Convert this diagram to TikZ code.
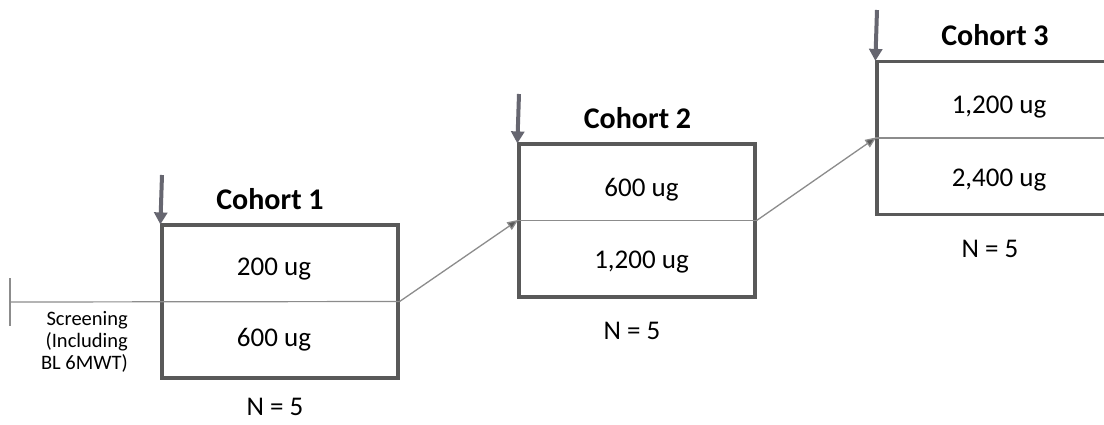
\documentclass[tikz,border=0pt]{standalone}
\usepackage{fontspec}
\setmainfont{Carlito}
\usetikzlibrary{arrows.meta}
\definecolor{boxgray}{HTML}{595959}
\definecolor{arrowgray}{HTML}{666670}
\definecolor{linegray}{HTML}{8C8C8C}
\tikzset{
  cbox/.style={draw=boxgray, line width=3.2pt, minimum width=236pt, minimum height=153pt, inner sep=0pt},
  midline/.style={draw=linegray, line width=1.2pt},
  downarrow/.style={draw=arrowgray, line width=4pt, -{Triangle[width=13pt,length=12pt]}, shorten >=-1pt},
  diag/.style={draw=linegray, line width=1.3pt, -{Triangle[width=9pt,length=11pt,fill=boxgray]}, shorten >=-1pt},
  title/.style={font=\fontsize{30}{34}\bfseries\selectfont, inner sep=0pt},
  dose/.style={font=\fontsize{27}{31}\selectfont, inner sep=0pt},
  small/.style={font=\fontsize{20.5}{22}\selectfont, inner sep=0pt, align=right}
}
\begin{document}
\begin{tikzpicture}[x=1pt,y=-1pt]
\useasboundingbox (0,0) rectangle (1104,424);
\clip (0,0) rectangle (1104,424);
\fill[white] (0,0) rectangle (1104,424);
% boxes
\node[cbox] (b1) at (280,301.5) {};
\node[cbox] (b2) at (637,220.5) {};
\node[cbox] (b3) at (995,138) {};
% screening start
\coordinate (s) at (10,302);
\coordinate (st) at (10,278);
\coordinate (sb) at (10,326);
\draw[midline] (st) -- (sb);
\draw[midline] (s) -- (b1.east);
\draw[midline] (b2.west) -- (b2.east);
\draw[midline] (b3.west) -- (b3.east);
% diagonal arrows
\draw[diag] (b1.east) -- (b2.west);
\draw[diag] (b2.east) -- (b3.west);
% down arrows
\coordinate (d1) at (162,175);
\coordinate (d2) at (519,94);
\coordinate (d3) at (877,10);
\draw[downarrow] (d1) -- (b1.north west);
\draw[downarrow] (d2) -- (b2.north west);
\draw[downarrow] (d3) -- (b3.north west);
% titles
\node[title] (t1) at (270,199) {Cohort 1};
\node[title] (t2) at (637.5,118.5) {Cohort 2};
\node[title] (t3) at (995,35) {Cohort 3};
% doses
\node[dose] (x1a) at (274,269) {200 ug};
\node[dose] (x1b) at (274,340) {600 ug};
\node[dose] (x2a) at (641.5,189.5) {600 ug};
\node[dose] (x2b) at (641.5,262) {1,200 ug};
\node[dose] (x3a) at (999,107) {1,200 ug};
\node[dose] (x3b) at (999,180) {2,400 ug};
% N labels
\node[dose] (n1) at (275,407) {N = 5};
\node[dose] (n2) at (632,331) {N = 5};
\node[dose] (n3) at (990,249) {N = 5};
% screening label
\node[small, anchor=east] (scr) at (128,342) {Screening\\(Including\\BL 6MWT)};
\end{tikzpicture}
\end{document}
